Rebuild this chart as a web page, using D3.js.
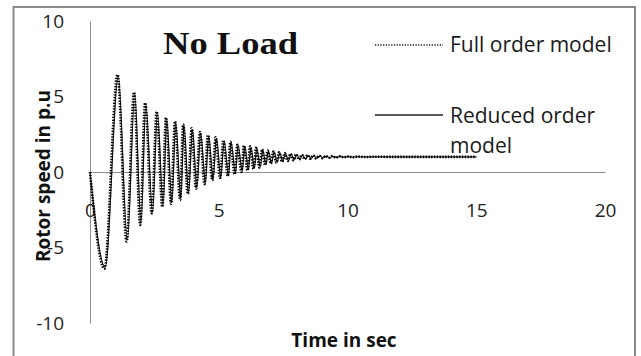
<!DOCTYPE html>
<html>
<head>
<meta charset="utf-8">
<script src="https://cdn.jsdelivr.net/npm/d3@7"></script>
<style>
  body { margin: 0; background: #fff; }
  svg { display: block; }
</style>
</head>
<body>
<div id="chart"></div>
<script>
// values (turning points of each trace)
const fullTime = [0, 0.56, 1.07, 1.42, 1.71, 1.95, 2.14, 2.40, 2.59, 2.81, 2.95, 3.15, 3.30, 3.50, 3.62, 3.80,
  3.95, 4.12, 4.27, 4.45, 4.58, 4.75, 4.88, 5.05, 5.18, 5.35, 5.45, 5.62, 5.72, 5.88, 5.98, 6.12, 6.22, 6.35,
  6.45, 6.58, 6.68, 6.80, 6.90, 7.02, 7.12, 7.24, 7.34, 7.46, 7.56, 7.68, 7.78, 7.90, 8.00, 8.12, 8.22, 8.34,
  8.44, 8.56, 8.66, 8.78, 8.90, 9.02, 9.15, 9.28, 9.40, 9.55, 9.70, 9.85, 10.0, 10.2, 10.4, 10.7, 11.0, 12.0, 15.0];
const fullSpeed = [0, -6.4, 6.45, -4.6, 5.27, -3.5, 4.57, -2.74, 4.0, -2.3, 3.6, -2.1, 3.35, -1.85, 3.15, -1.45,
  2.9, -1.1, 2.65, -0.8, 2.45, -0.55, 2.3, -0.4, 2.1, -0.28, 2.0, -0.15, 1.8, 0.0, 1.75, 0.1, 1.7, 0.2,
  1.6, 0.3, 1.5, 0.45, 1.42, 0.55, 1.35, 0.62, 1.3, 0.68, 1.25, 0.73, 1.2, 0.78, 1.17, 0.82, 1.14, 0.85,
  1.12, 0.88, 1.1, 0.9, 1.08, 0.92, 1.06, 0.94, 1.05, 0.96, 1.04, 0.97, 1.03, 0.98, 1.02, 0.99, 1.01, 1.0, 1.0];

const reducedTime = [0, 0.59, 1.10, 1.45, 1.74, 1.98, 2.17, 2.43, 2.62, 2.84, 2.98, 3.18, 3.33, 3.53, 3.65, 3.83,
  3.98, 4.15, 4.30, 4.48, 4.61, 4.78, 4.91, 5.08, 5.21, 5.38, 5.48, 5.65, 5.75, 5.91, 6.01, 6.15, 6.25, 6.38,
  6.48, 6.61, 6.71, 6.83, 6.93, 7.05, 7.15, 7.27, 7.37, 7.49, 7.59, 7.71, 7.81, 7.93, 8.03, 8.15, 8.25, 8.37,
  8.47, 8.59, 8.69, 8.81, 8.93, 9.05, 9.18, 9.31, 9.43, 9.58, 9.73, 9.88, 10.03, 10.23, 10.43, 10.73, 11.03, 12.0, 15.0];
const reducedSpeed = [0, -6.3, 6.3, -4.5, 5.15, -3.4, 4.45, -2.65, 3.9, -2.2, 3.5, -2.0, 3.25, -1.75, 3.05, -1.4,
  2.8, -1.05, 2.6, -0.75, 2.4, -0.5, 2.25, -0.35, 2.05, -0.25, 1.95, -0.1, 1.78, 0.05, 1.72, 0.15, 1.66, 0.24,
  1.57, 0.34, 1.47, 0.48, 1.4, 0.57, 1.33, 0.64, 1.28, 0.7, 1.23, 0.75, 1.19, 0.8, 1.16, 0.83, 1.13, 0.86,
  1.11, 0.89, 1.09, 0.91, 1.07, 0.93, 1.05, 0.95, 1.04, 0.97, 1.03, 0.98, 1.02, 0.99, 1.01, 1.0, 1.0, 1.0, 1.0];

const xTicks = [0, 5, 10, 15, 20];
const yTicks = [-10, -5, 0, 5, 10];
const seriesNames = ['Full order model', 'Reduced order', 'model'];

const width = 641, height = 356;
const font = '"Open Sans", sans-serif';

const svg = d3.select('#chart')
  .append('svg')
  .attr('width', width)
  .attr('height', height);

// outer frame
svg.append('rect')
  .attr('x', 13.5).attr('y', 7)
  .attr('width', 621.5).attr('height', 360)
  .attr('fill', 'none')
  .attr('stroke', '#8a8a8a')
  .attr('stroke-width', 2);

const x = d3.scaleLinear().domain([0, 20]).range([90, 605]);
const y = d3.scaleLinear().domain([-10, 10]).range([323, 21]);

// Y axis
const yAxis = svg.append('g')
  .attr('transform', `translate(${x(0)},0)`)
  .call(d3.axisLeft(y).tickValues(yTicks).tickFormat(d => String(d))
    .tickSize(0).tickSizeOuter(0).tickPadding(26));
yAxis.select('.domain').attr('stroke', '#8c8c8c');
yAxis.selectAll('text')
  .attr('font-family', font)
  .attr('font-size', '19px')
  .attr('fill', '#222');

// X axis through zero, labels hang well below it
const xAxis = svg.append('g')
  .attr('transform', `translate(0,${y(0)})`)
  .call(d3.axisBottom(x).tickValues(xTicks).tickFormat(d => String(d))
    .tickSize(0).tickSizeOuter(0));
xAxis.select('.domain').attr('stroke', '#8c8c8c');
xAxis.selectAll('text')
  .attr('y', 45)
  .attr('dy', 0)
  .attr('font-family', font)
  .attr('font-size', '19px')
  .attr('fill', '#222');

const line = d3.line()
  .x(d => x(d[0]))
  .y(d => y(d[1]))
  .curve(d3.curveMonotoneX);

const reduced = reducedTime.map((t, i) => [t, reducedSpeed[i]]);
const full = fullTime.map((t, i) => [t, fullSpeed[i]]);

svg.append('path')
  .datum(reduced)
  .attr('fill', 'none')
  .attr('stroke', '#222')
  .attr('stroke-width', 1.2)
  .attr('d', line);

svg.append('path')
  .datum(full)
  .attr('fill', 'none')
  .attr('stroke', '#000')
  .attr('stroke-width', 2.6)
  .attr('stroke-dasharray', '1.4,1.4')
  .attr('d', line);

// title
svg.append('text')
  .attr('x', 163).attr('y', 54)
  .attr('font-family', '"Liberation Serif", serif')
  .attr('font-weight', 'bold')
  .attr('font-size', '31px')
  .attr('textLength', 135)
  .attr('lengthAdjust', 'spacingAndGlyphs')
  .attr('fill', '#111')
  .text('No Load');

// legend
svg.append('line')
  .attr('x1', 375).attr('x2', 443).attr('y1', 45).attr('y2', 45)
  .attr('stroke', '#111').attr('stroke-width', 1.5)
  .attr('stroke-dasharray', '1.2,1.5');
svg.append('line')
  .attr('x1', 375).attr('x2', 443).attr('y1', 115).attr('y2', 115)
  .attr('stroke', '#222').attr('stroke-width', 1.3);

svg.selectAll('.legend-text')
  .data(seriesNames)
  .join('text')
  .attr('class', 'legend-text')
  .attr('x', 450)
  .attr('y', (d, i) => [52, 123, 153][i])
  .attr('font-family', font)
  .attr('font-size', '21px')
  .attr('fill', '#1a1a1a')
  .text(d => d);

// axis titles
svg.append('text')
  .attr('transform', 'translate(50,176) rotate(-90)')
  .attr('text-anchor', 'middle')
  .attr('font-family', font)
  .attr('font-weight', 'bold')
  .attr('font-size', '19px')
  .attr('fill', '#111')
  .text('Rotor speed in p.u');

svg.append('text')
  .attr('x', 344).attr('y', 347)
  .attr('text-anchor', 'middle')
  .attr('font-family', font)
  .attr('font-weight', 'bold')
  .attr('font-size', '19px')
  .attr('fill', '#111')
  .text('Time in sec');
</script>
</body>
</html>
